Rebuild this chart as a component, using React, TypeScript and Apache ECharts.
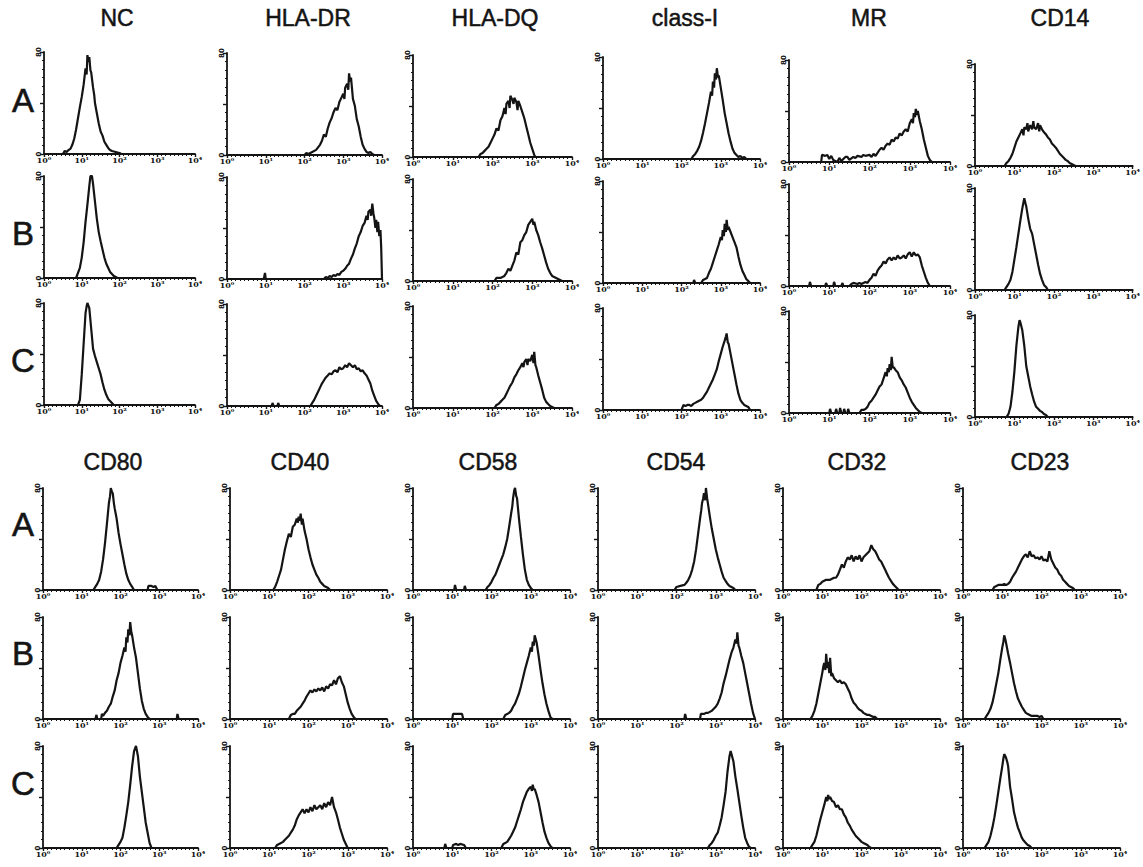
import React, { useEffect, useRef } from "react";
import * as echarts from "echarts";

// ---------- labels ----------
const TOP_MARKERS = ["NC", "HLA-DR", "HLA-DQ", "class-I", "MR", "CD14"];
const BOTTOM_MARKERS = ["CD80", "CD40", "CD58", "CD54", "CD32", "CD23"];
const ROW_LABELS = ["A", "B", "C"];
const X_TICK_LABELS = ["10⁰", "10¹", "10²", "10³", "10⁴"];
const Y_TOP_LABEL = "80";

// ---------- histogram data: [log10 fluorescence, relative count] ----------
// top block, row A
const NC_A = [[0.5,0],[0.55,3],[0.6,2],[0.65,4],[0.7,5],[0.75,9],[0.8,15],[0.85,24],[0.9,35],[0.95,46],[1.0,56],[1.05,68],[1.1,84],[1.13,78],[1.15,97],[1.18,90],[1.2,95],[1.23,82],[1.25,80],[1.3,65],[1.33,58],[1.35,50],[1.4,40],[1.45,30],[1.5,22],[1.55,18],[1.6,12],[1.65,9],[1.7,6],[1.75,4],[1.8,3],[1.9,2],[2.0,1],[2.05,0]];
const HLADR_A = [[2.0,0],[2.05,2],[2.1,1],[2.15,2],[2.2,3],[2.3,5],[2.4,10],[2.45,14],[2.5,20],[2.55,18],[2.6,26],[2.65,32],[2.7,36],[2.75,42],[2.8,46],[2.85,44],[2.9,52],[2.95,56],[3.0,60],[3.03,55],[3.05,66],[3.1,70],[3.13,64],[3.15,80],[3.18,72],[3.2,76],[3.25,55],[3.3,48],[3.35,35],[3.4,28],[3.45,18],[3.5,10],[3.55,6],[3.6,3],[3.65,2],[3.7,3],[3.75,1],[3.8,0]];
const HLADQ_A = [[1.65,0],[1.7,3],[1.75,4],[1.8,6],[1.85,8],[1.9,10],[1.95,14],[2.0,18],[2.05,22],[2.1,28],[2.15,26],[2.2,36],[2.25,40],[2.3,48],[2.33,42],[2.35,52],[2.4,55],[2.43,48],[2.45,60],[2.5,56],[2.53,52],[2.55,58],[2.6,54],[2.63,46],[2.65,55],[2.7,50],[2.75,44],[2.8,38],[2.85,30],[2.9,22],[2.95,14],[3.0,8],[3.05,2],[3.08,0]];
const CLASSI_A = [[2.25,0],[2.3,3],[2.35,5],[2.4,8],[2.45,12],[2.5,18],[2.55,26],[2.6,35],[2.65,45],[2.7,55],[2.75,66],[2.78,62],[2.8,76],[2.83,70],[2.85,84],[2.88,78],[2.9,89],[2.93,80],[2.95,82],[3.0,70],[3.05,58],[3.1,45],[3.15,35],[3.2,25],[3.25,17],[3.3,10],[3.35,6],[3.4,4],[3.45,2],[3.5,3],[3.55,1],[3.6,2],[3.65,0]];
const MR_A = [[0.8,0],[0.82,7],[0.9,6],[0.95,7],[1.0,3],[1.05,6],[1.1,2],[1.2,0],[1.25,4],[1.3,1],[1.4,5],[1.45,5],[1.5,2],[1.6,5],[1.65,4],[1.7,6],[1.8,5],[1.85,7],[1.9,6],[2.0,7],[2.05,5],[2.1,8],[2.15,6],[2.2,9],[2.25,12],[2.3,14],[2.35,12],[2.4,16],[2.45,18],[2.5,17],[2.55,22],[2.6,20],[2.65,24],[2.7,23],[2.75,28],[2.8,26],[2.85,30],[2.9,32],[2.95,30],[3.0,38],[3.05,42],[3.08,38],[3.1,48],[3.13,44],[3.15,52],[3.18,46],[3.2,50],[3.25,40],[3.3,32],[3.35,22],[3.4,14],[3.45,6],[3.5,2],[3.55,0]];
const CD14_A = [[0.75,0],[0.8,3],[0.85,5],[0.9,8],[0.95,12],[1.0,18],[1.05,24],[1.1,28],[1.15,32],[1.2,36],[1.23,30],[1.25,38],[1.3,36],[1.33,42],[1.35,34],[1.4,40],[1.45,36],[1.48,44],[1.5,38],[1.55,36],[1.6,42],[1.63,34],[1.65,40],[1.7,36],[1.75,33],[1.8,31],[1.85,28],[1.9,26],[1.95,22],[2.0,20],[2.05,18],[2.1,15],[2.15,12],[2.2,10],[2.25,8],[2.3,6],[2.35,5],[2.4,3],[2.45,2],[2.5,1],[2.55,0]];
// top block, row B
const NC_B = [[0.85,0],[0.9,5],[0.95,10],[1.0,20],[1.05,35],[1.1,55],[1.15,72],[1.2,90],[1.23,100],[1.27,100],[1.3,92],[1.35,75],[1.4,58],[1.45,45],[1.5,36],[1.55,28],[1.6,20],[1.65,14],[1.7,10],[1.75,6],[1.8,4],[1.85,2],[1.9,1],[1.95,0]];
const HLADR_B = [[0.95,0],[0.98,6],[1.0,0],[2.5,0],[2.55,2],[2.6,1],[2.65,3],[2.7,2],[2.75,4],[2.8,3],[2.85,5],[2.9,4],[2.95,7],[3.0,8],[3.05,10],[3.1,13],[3.15,15],[3.2,20],[3.25,24],[3.3,30],[3.35,35],[3.4,42],[3.45,46],[3.5,52],[3.55,55],[3.6,62],[3.63,58],[3.65,66],[3.7,68],[3.72,62],[3.75,74],[3.78,64],[3.8,60],[3.83,50],[3.85,58],[3.88,46],[3.9,56],[3.93,42],[3.96,48],[3.98,30],[4.0,0]];
const HLADQ_B = [[2.05,0],[2.1,3],[2.2,3],[2.25,4],[2.3,5],[2.35,8],[2.4,12],[2.45,10],[2.5,15],[2.55,20],[2.6,28],[2.65,26],[2.7,38],[2.75,40],[2.8,45],[2.85,48],[2.9,55],[2.95,58],[3.0,61],[3.03,55],[3.05,58],[3.1,50],[3.15,45],[3.2,38],[3.25,32],[3.3,25],[3.35,18],[3.4,12],[3.45,8],[3.5,5],[3.55,4],[3.6,3],[3.65,2],[3.7,1],[3.75,0]];
const CLASSI_B = [[2.3,0],[2.32,3],[2.35,0],[2.5,0],[2.55,3],[2.6,4],[2.65,5],[2.7,10],[2.75,14],[2.8,20],[2.85,26],[2.9,32],[2.95,38],[3.0,45],[3.03,42],[3.05,52],[3.08,46],[3.1,58],[3.13,50],[3.15,62],[3.18,52],[3.2,55],[3.25,50],[3.3,45],[3.35,40],[3.4,35],[3.45,26],[3.5,18],[3.55,12],[3.6,8],[3.65,4],[3.7,2],[3.75,0]];
const MR_B = [[0.5,0],[0.52,4],[0.55,0],[0.9,0],[0.92,3],[0.95,0],[1.1,0],[1.12,4],[1.15,0],[1.3,0],[1.33,3],[1.35,0],[1.5,0],[1.55,2],[1.6,3],[1.7,2],[1.75,3],[1.8,2],[1.85,3],[1.9,4],[1.95,3],[2.0,6],[2.05,8],[2.1,12],[2.15,10],[2.2,15],[2.25,18],[2.3,20],[2.35,24],[2.4,22],[2.45,26],[2.5,28],[2.55,25],[2.6,28],[2.65,26],[2.7,30],[2.75,27],[2.8,28],[2.85,30],[2.9,27],[2.95,31],[3.0,33],[3.05,29],[3.1,33],[3.15,30],[3.2,31],[3.25,28],[3.3,20],[3.35,14],[3.4,8],[3.45,3],[3.5,0]];
const CD14_B = [[0.75,0],[0.8,3],[0.85,6],[0.9,10],[0.95,18],[1.0,30],[1.05,42],[1.1,55],[1.15,68],[1.2,80],[1.23,86],[1.25,90],[1.28,85],[1.3,82],[1.35,70],[1.4,60],[1.45,55],[1.5,45],[1.55,35],[1.6,25],[1.65,16],[1.7,10],[1.75,5],[1.8,3],[1.85,0]];
// top block, row C
const NC_C = [[0.9,0],[0.95,5],[1.0,30],[1.05,60],[1.1,90],[1.13,97],[1.15,100],[1.2,95],[1.25,75],[1.3,55],[1.35,48],[1.4,42],[1.45,36],[1.5,30],[1.55,22],[1.6,15],[1.65,10],[1.7,6],[1.75,4],[1.8,2],[1.85,0]];
const HLADR_C = [[1.15,0],[1.18,3],[1.2,0],[1.3,0],[1.32,3],[1.35,0],[2.15,0],[2.2,3],[2.25,6],[2.3,10],[2.35,14],[2.4,18],[2.45,22],[2.5,25],[2.55,28],[2.6,30],[2.65,32],[2.7,31],[2.75,34],[2.8,35],[2.85,33],[2.9,38],[2.95,36],[3.0,37],[3.05,40],[3.1,38],[3.15,42],[3.2,40],[3.25,38],[3.3,40],[3.35,36],[3.4,37],[3.45,34],[3.5,35],[3.55,32],[3.6,30],[3.65,26],[3.7,22],[3.75,15],[3.8,10],[3.85,5],[3.9,2],[3.95,0]];
const HLADQ_C = [[2.05,0],[2.1,3],[2.15,4],[2.2,6],[2.25,8],[2.3,10],[2.35,14],[2.4,18],[2.45,22],[2.5,25],[2.55,30],[2.6,33],[2.65,37],[2.7,40],[2.75,44],[2.78,40],[2.8,45],[2.85,48],[2.88,42],[2.9,48],[2.95,46],[3.0,52],[3.03,44],[3.05,55],[3.08,42],[3.1,40],[3.15,32],[3.2,25],[3.25,18],[3.3,10],[3.35,6],[3.4,4],[3.45,2],[3.5,1],[3.55,0]];
const CLASSI_C = [[2.0,0],[2.05,5],[2.1,4],[2.15,5],[2.2,5],[2.25,4],[2.3,6],[2.35,7],[2.4,8],[2.45,9],[2.5,10],[2.55,12],[2.6,15],[2.65,18],[2.7,22],[2.75,26],[2.8,30],[2.85,35],[2.9,40],[2.95,48],[3.0,55],[3.05,62],[3.1,68],[3.13,72],[3.15,75],[3.18,66],[3.2,65],[3.25,55],[3.3,45],[3.35,35],[3.4,25],[3.45,16],[3.5,10],[3.55,7],[3.6,5],[3.65,4],[3.7,3],[3.75,0]];
const MR_C = [[1.0,0],[1.02,4],[1.05,0],[1.15,0],[1.17,4],[1.2,0],[1.25,0],[1.27,5],[1.3,0],[1.35,0],[1.37,4],[1.4,0],[1.45,0],[1.47,4],[1.5,0],[1.75,0],[1.8,3],[1.85,3],[1.9,4],[1.95,6],[2.0,10],[2.05,12],[2.1,15],[2.15,18],[2.2,22],[2.25,26],[2.3,28],[2.35,34],[2.4,40],[2.43,36],[2.45,44],[2.48,40],[2.5,48],[2.53,42],[2.55,55],[2.58,44],[2.6,45],[2.65,42],[2.7,40],[2.75,35],[2.8,32],[2.85,28],[2.9,25],[2.95,20],[3.0,15],[3.05,11],[3.1,8],[3.15,5],[3.2,3],[3.25,1],[3.3,0]];
const CD14_C = [[0.8,0],[0.85,3],[0.9,10],[0.95,25],[1.0,45],[1.05,70],[1.1,88],[1.13,95],[1.15,93],[1.2,85],[1.25,70],[1.3,50],[1.35,40],[1.4,30],[1.45,22],[1.5,15],[1.55,10],[1.6,8],[1.65,6],[1.7,5],[1.75,3],[1.8,2],[1.85,0]];
// bottom block, row A
const CD80_A = [[1.3,0],[1.35,3],[1.4,6],[1.45,10],[1.5,18],[1.55,30],[1.6,46],[1.65,65],[1.7,85],[1.73,92],[1.75,100],[1.78,96],[1.8,95],[1.83,85],[1.85,80],[1.88,74],[1.9,70],[1.95,56],[2.0,45],[2.05,35],[2.1,25],[2.15,16],[2.2,10],[2.25,6],[2.3,3],[2.35,0],[2.7,0],[2.72,4],[2.8,4],[2.85,3],[2.9,4],[2.95,0]];
const CD40_A = [[1.1,0],[1.15,3],[1.2,8],[1.25,14],[1.3,20],[1.35,30],[1.4,40],[1.45,48],[1.5,55],[1.55,52],[1.6,62],[1.65,64],[1.7,70],[1.73,66],[1.75,72],[1.78,68],[1.8,75],[1.83,64],[1.85,70],[1.9,58],[1.95,50],[2.0,40],[2.05,32],[2.1,25],[2.15,20],[2.2,15],[2.25,12],[2.3,8],[2.35,6],[2.4,4],[2.45,3],[2.5,2],[2.55,0]];
const CD58_A = [[1.05,0],[1.07,5],[1.1,0],[1.3,0],[1.32,4],[1.35,0],[1.85,0],[1.9,3],[1.95,5],[2.0,8],[2.05,12],[2.1,15],[2.15,20],[2.2,25],[2.25,30],[2.3,35],[2.35,42],[2.4,50],[2.45,62],[2.5,75],[2.53,82],[2.55,90],[2.58,98],[2.6,100],[2.63,92],[2.65,90],[2.7,70],[2.75,52],[2.8,35],[2.85,20],[2.9,10],[2.95,5],[3.0,2],[3.05,0]];
const CD54_A = [[1.95,0],[2.0,3],[2.1,4],[2.2,5],[2.25,7],[2.3,10],[2.35,14],[2.4,20],[2.45,28],[2.5,40],[2.55,55],[2.6,70],[2.63,78],[2.65,85],[2.68,90],[2.7,95],[2.73,88],[2.75,100],[2.78,90],[2.8,85],[2.85,72],[2.9,60],[2.95,50],[3.0,40],[3.05,32],[3.1,25],[3.15,18],[3.2,12],[3.25,9],[3.3,6],[3.35,4],[3.4,3],[3.45,2],[3.5,0]];
const CD32_A = [[0.85,0],[0.9,5],[0.95,6],[1.0,8],[1.05,9],[1.1,10],[1.15,10],[1.2,10],[1.25,11],[1.3,12],[1.35,12],[1.4,15],[1.45,20],[1.5,25],[1.55,22],[1.6,28],[1.65,32],[1.7,30],[1.75,34],[1.8,28],[1.85,33],[1.9,30],[1.95,34],[2.0,28],[2.05,32],[2.1,34],[2.15,36],[2.2,38],[2.25,44],[2.3,40],[2.35,38],[2.4,34],[2.45,30],[2.5,28],[2.55,24],[2.6,20],[2.65,16],[2.7,12],[2.75,9],[2.8,6],[2.85,4],[2.9,2],[2.95,0]];
const CD23_A = [[0.75,0],[0.8,3],[0.85,4],[0.9,5],[1.0,5],[1.05,6],[1.1,5],[1.15,6],[1.2,8],[1.25,12],[1.3,15],[1.35,18],[1.4,22],[1.45,26],[1.5,30],[1.55,33],[1.6,35],[1.65,32],[1.7,38],[1.75,33],[1.8,34],[1.85,31],[1.9,32],[1.95,30],[2.0,33],[2.05,29],[2.1,30],[2.15,28],[2.2,38],[2.25,30],[2.3,26],[2.35,22],[2.4,20],[2.45,16],[2.5,14],[2.55,10],[2.6,8],[2.65,6],[2.7,4],[2.75,3],[2.8,2],[2.85,0]];
// bottom block, row B
const CD80_B = [[1.35,0],[1.38,4],[1.4,0],[1.5,0],[1.52,5],[1.55,3],[1.6,6],[1.65,8],[1.7,12],[1.75,15],[1.8,22],[1.85,28],[1.9,38],[1.95,45],[2.0,55],[2.05,62],[2.1,70],[2.13,66],[2.15,80],[2.18,75],[2.2,88],[2.23,82],[2.25,95],[2.28,85],[2.3,82],[2.35,70],[2.4,60],[2.45,45],[2.5,30],[2.55,18],[2.6,10],[2.65,5],[2.7,2],[2.75,0],[3.45,0],[3.47,5],[3.5,0]];
const CD40_B = [[1.5,0],[1.55,4],[1.6,5],[1.65,5],[1.7,8],[1.75,10],[1.8,12],[1.85,15],[1.9,18],[1.95,22],[2.0,25],[2.05,28],[2.1,26],[2.15,29],[2.2,27],[2.25,30],[2.3,28],[2.35,31],[2.4,27],[2.45,32],[2.5,30],[2.55,34],[2.6,33],[2.65,38],[2.7,34],[2.75,40],[2.8,42],[2.85,36],[2.9,32],[2.95,24],[3.0,16],[3.05,10],[3.1,5],[3.15,2],[3.2,0]];
const CD58_B = [[1.0,0],[1.02,5],[1.25,5],[1.28,0],[2.3,0],[2.35,4],[2.4,5],[2.45,6],[2.5,8],[2.55,12],[2.6,15],[2.65,20],[2.7,25],[2.75,32],[2.8,40],[2.85,48],[2.9,55],[2.95,62],[3.0,70],[3.03,66],[3.05,76],[3.08,72],[3.1,82],[3.13,78],[3.15,75],[3.2,62],[3.25,48],[3.3,35],[3.35,24],[3.4,15],[3.45,8],[3.5,2],[3.55,0]];
const CD54_B = [[2.2,0],[2.22,5],[2.25,0],[2.6,0],[2.62,5],[2.7,5],[2.75,6],[2.8,6],[2.85,7],[2.9,8],[2.95,10],[3.0,12],[3.05,15],[3.1,20],[3.15,26],[3.2,35],[3.25,42],[3.3,50],[3.35,58],[3.4,65],[3.45,70],[3.5,78],[3.53,74],[3.55,85],[3.58,72],[3.6,70],[3.65,62],[3.7,55],[3.75,45],[3.8,35],[3.85,25],[3.9,15],[3.95,6],[4.0,0]];
const CD32_B = [[0.7,0],[0.75,3],[0.8,8],[0.85,15],[0.9,25],[0.95,35],[1.0,45],[1.03,52],[1.05,55],[1.08,48],[1.1,64],[1.13,50],[1.15,56],[1.18,45],[1.2,60],[1.23,42],[1.25,45],[1.3,40],[1.35,38],[1.4,36],[1.45,38],[1.5,35],[1.55,36],[1.6,34],[1.65,30],[1.7,26],[1.75,20],[1.8,16],[1.85,14],[1.9,11],[1.95,9],[2.0,8],[2.05,6],[2.1,5],[2.15,4],[2.2,4],[2.25,3],[2.3,2],[2.35,2],[2.4,0]];
const CD23_B = [[0.55,0],[0.6,3],[0.65,6],[0.7,10],[0.75,16],[0.8,25],[0.85,35],[0.9,45],[0.95,58],[1.0,70],[1.03,76],[1.05,82],[1.08,78],[1.1,74],[1.15,64],[1.2,55],[1.25,45],[1.3,35],[1.35,27],[1.4,20],[1.45,16],[1.5,12],[1.55,9],[1.6,6],[1.65,5],[1.7,4],[1.75,3],[1.8,3],[1.85,3],[1.9,3],[1.95,2],[2.0,3],[2.05,0]];
// bottom block, row C
const CD80_C = [[1.9,0],[1.95,3],[2.0,6],[2.05,10],[2.1,20],[2.15,32],[2.2,45],[2.25,62],[2.3,80],[2.35,95],[2.4,100],[2.45,90],[2.5,70],[2.55,55],[2.6,40],[2.65,25],[2.7,15],[2.75,5],[2.8,0]];
const CD40_C = [[1.15,0],[1.2,3],[1.25,4],[1.3,5],[1.35,6],[1.4,8],[1.45,10],[1.5,12],[1.55,15],[1.6,18],[1.65,22],[1.7,28],[1.75,32],[1.8,35],[1.85,38],[1.9,34],[1.95,38],[2.0,35],[2.05,40],[2.1,36],[2.15,42],[2.2,38],[2.25,40],[2.3,42],[2.35,38],[2.4,44],[2.45,40],[2.5,45],[2.55,42],[2.6,50],[2.65,40],[2.7,35],[2.75,28],[2.8,20],[2.85,14],[2.9,8],[2.95,4],[3.0,0]];
const CD58_C = [[0.8,0],[0.82,4],[0.85,0],[1.0,0],[1.02,3],[1.1,4],[1.15,3],[1.2,4],[1.3,3],[1.35,0],[2.25,0],[2.3,4],[2.35,5],[2.4,6],[2.45,9],[2.5,12],[2.55,16],[2.6,20],[2.65,26],[2.7,32],[2.75,38],[2.8,45],[2.85,50],[2.9,55],[2.95,58],[3.0,60],[3.03,56],[3.05,62],[3.08,57],[3.1,58],[3.15,52],[3.2,45],[3.25,35],[3.3,25],[3.35,16],[3.4,10],[3.45,5],[3.5,2],[3.55,0]];
const CD54_C = [[2.8,0],[2.85,3],[2.9,5],[2.95,8],[3.0,12],[3.05,15],[3.1,22],[3.15,30],[3.2,42],[3.25,55],[3.3,75],[3.35,90],[3.38,95],[3.4,92],[3.45,85],[3.5,70],[3.55,58],[3.6,45],[3.65,32],[3.7,20],[3.75,10],[3.8,5],[3.85,1],[3.9,0]];
const CD32_C = [[0.7,0],[0.75,3],[0.8,6],[0.85,12],[0.9,20],[0.95,28],[1.0,35],[1.05,42],[1.1,50],[1.13,46],[1.15,52],[1.18,48],[1.2,50],[1.25,46],[1.3,45],[1.35,40],[1.4,42],[1.45,38],[1.5,38],[1.55,33],[1.6,30],[1.65,25],[1.7,22],[1.75,18],[1.8,15],[1.85,12],[1.9,10],[1.95,8],[2.0,6],[2.05,5],[2.1,4],[2.15,3],[2.2,1],[2.25,0]];
const CD23_C = [[0.55,0],[0.6,3],[0.65,6],[0.7,12],[0.75,20],[0.8,30],[0.85,42],[0.9,55],[0.95,68],[1.0,80],[1.03,88],[1.05,92],[1.08,90],[1.1,88],[1.13,84],[1.15,80],[1.2,60],[1.25,48],[1.3,35],[1.35,27],[1.4,20],[1.45,15],[1.5,10],[1.55,7],[1.6,5],[1.65,3],[1.7,2],[1.75,0]];

const TOP_DATA = [
  [NC_A, HLADR_A, HLADQ_A, CLASSI_A, MR_A, CD14_A],
  [NC_B, HLADR_B, HLADQ_B, CLASSI_B, MR_B, CD14_B],
  [NC_C, HLADR_C, HLADQ_C, CLASSI_C, MR_C, CD14_C],
];
const BOTTOM_DATA = [
  [CD80_A, CD40_A, CD58_A, CD54_A, CD32_A, CD23_A],
  [CD80_B, CD40_B, CD58_B, CD54_B, CD32_B, CD23_B],
  [CD80_C, CD40_C, CD58_C, CD54_C, CD32_C, CD23_C],
];

// ---------- layout (pixels) ----------
const PANEL_H = 102;
const BLOCKS = [
  {
    markers: TOP_MARKERS,
    data: TOP_DATA,
    titleY: 18,
    titleX: [117, 308, 495, 685, 869, 1060],
    axisX: [44, 227, 413, 603, 789, 975],
    widths: [151, 155, 159, 157, 161, 165],
    baselines: [154, 278, 405],
    tilt: [0, 1, 3, 5, 8, 12],
    letterY: [100, 233, 360],
  },
  {
    markers: BOTTOM_MARKERS,
    data: BOTTOM_DATA,
    titleY: 462,
    titleX: [113, 300, 488, 676, 857, 1040],
    axisX: [43, 230, 413, 598, 783, 963],
    widths: [155, 157, 157, 157, 157, 157],
    baselines: [590, 719, 848],
    tilt: [0, 0, 0, 0, 0, 0],
    letterY: [524, 653, 783],
  },
];

const INK = "#141414";

function buildOption() {
  const grid: any[] = [];
  const xAxis: any[] = [];
  const yAxis: any[] = [];
  const series: any[] = [];
  const graphic: any[] = [];
  let idx = 0;
  BLOCKS.forEach((b) => {
    b.markers.forEach((m, c) => {
      graphic.push({
        type: "text",
        style: {
          text: m,
          x: b.titleX[c],
          y: b.titleY,
          fill: INK,
          stroke: INK,
          lineWidth: 0.5,
          font: '23px "Liberation Sans", Arial, sans-serif',
          textAlign: "center",
          textVerticalAlign: "middle",
        },
      });
    });
    ROW_LABELS.forEach((r, ri) => {
      graphic.push({
        type: "text",
        style: {
          text: r,
          x: 23,
          y: b.letterY[ri],
          fill: INK,
          stroke: INK,
          lineWidth: 0.6,
          font: '33px "Liberation Sans", Arial, sans-serif',
          textAlign: "center",
          textVerticalAlign: "middle",
        },
      });
      b.data[ri].forEach((d, c) => {
        const base = b.baselines[ri] + b.tilt[c];
        grid.push({
          left: b.axisX[c],
          top: base - PANEL_H,
          width: b.widths[c],
          height: PANEL_H,
          containLabel: false,
        });
        xAxis.push({
          gridIndex: idx,
          type: "value",
          min: 0,
          max: 4,
          interval: 1,
          axisLine: { show: true, onZero: false, lineStyle: { color: INK, width: 1.8 } },
          axisTick: { show: true, length: 3, lineStyle: { color: INK, width: 1.4 } },
          minorTick: { show: true, splitNumber: 9, length: 2, lineStyle: { color: INK, width: 1 } },
          splitLine: { show: false },
          axisLabel: {
            formatter: (v: number) => X_TICK_LABELS[Math.round(v)],
            fontSize: 8,
            fontWeight: "bold",
            fontFamily: '"DejaVu Serif", serif',
            color: INK,
            margin: 2,
          },
        });
        yAxis.push({
          gridIndex: idx,
          type: "value",
          min: 0,
          max: 100,
          interval: 50,
          axisLine: { show: true, lineStyle: { color: INK, width: 1.8 } },
          axisTick: { show: true, length: 4, lineStyle: { color: INK, width: 1.4 } },
          minorTick: { show: true, splitNumber: 6, length: 2, lineStyle: { color: INK, width: 1 } },
          splitLine: { show: false },
          axisLabel: {
            formatter: (v: number) => (v === 100 ? Y_TOP_LABEL : v === 0 ? "0" : ""),
            fontSize: 7,
            fontWeight: "bold",
            fontFamily: '"DejaVu Sans", sans-serif',
            color: INK,
            margin: 2,
            rotate: 90,
          },
        });
        series.push({
          type: "line",
          xAxisIndex: idx,
          yAxisIndex: idx,
          data: d,
          symbol: "none",
          showSymbol: false,
          silent: true,
          lineStyle: { color: INK, width: 2.2 },
        });
        idx++;
      });
    });
  });
  return {
    animation: false,
    backgroundColor: "#ffffff",
    grid,
    xAxis,
    yAxis,
    series,
    graphic,
  };
}

export default function App() {
  const ref = useRef<HTMLDivElement>(null);
  useEffect(() => {
    document.body.style.margin = "0";
    if (!ref.current) return;
    const chart = echarts.init(ref.current, undefined, { renderer: "svg" });
    chart.setOption(buildOption() as any);
    return () => chart.dispose();
  }, []);
  return (
    <div
      ref={ref}
      style={{ position: "absolute", left: 0, top: 0, width: 1143, height: 867, background: "#fff" }}
    />
  );
}
